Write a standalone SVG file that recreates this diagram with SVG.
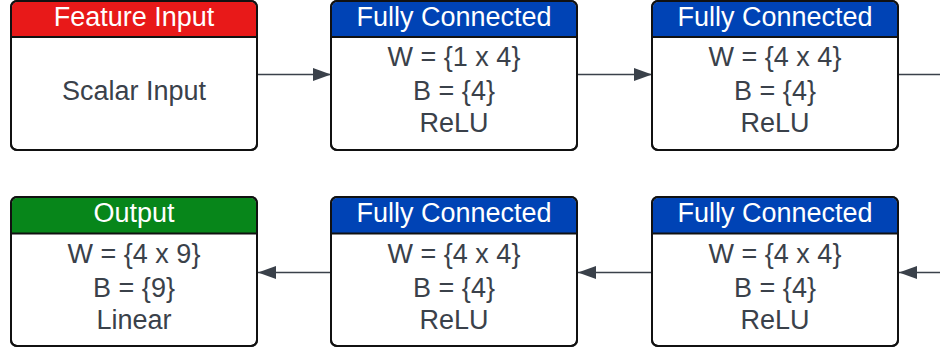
<svg xmlns="http://www.w3.org/2000/svg" width="940" height="349" viewBox="0 0 940 349">
<defs>
<style>
.box{fill:#ffffff;stroke:#111111;stroke-width:2}
.sep{stroke:#111111;stroke-width:2}
.ht{font-family:"Liberation Sans",Arial,sans-serif;font-size:27px;fill:#ffffff;text-anchor:middle}
.bt{font-family:"Liberation Sans",Arial,sans-serif;font-size:27px;fill:#3a414a;text-anchor:middle}
.con{stroke:#3a414a;stroke-width:1.6;fill:none}
</style>
<marker id="ah" viewBox="0 0 18 13" refX="18" refY="6.5" markerWidth="18" markerHeight="13" markerUnits="userSpaceOnUse" orient="auto">
<path d="M0,0 L18,6.5 L0,13 Z" fill="#3a414a"/>
</marker>
</defs>
<g id="connectors">
<line class="con" x1="258" y1="74.5" x2="331" y2="74.5" marker-end="url(#ah)"/>
<line class="con" x1="578" y1="74.5" x2="652" y2="74.5" marker-end="url(#ah)"/>
<line class="con" x1="899" y1="74.5" x2="940" y2="74.5"/>
<line class="con" x1="940" y1="272.5" x2="899" y2="272.5" marker-end="url(#ah)"/>
<line class="con" x1="652" y1="272.5" x2="578" y2="272.5" marker-end="url(#ah)"/>
<line class="con" x1="331" y1="272.5" x2="258" y2="272.5" marker-end="url(#ah)"/>
</g>
<g id="feature-input" transform="translate(11,1)">
<rect class="box" x="0" y="0" width="246" height="149" rx="6"/>
<path d="M1,36 V6 A5,5 0 0 1 6,1 H240 A5,5 0 0 1 245,6 V36 Z" fill="#e81919"/>
<line class="sep" x1="0" y1="36" x2="246" y2="36"/>
<rect x="0" y="0" width="246" height="149" rx="6" fill="none" stroke="#111" stroke-width="2"/>
<text class="ht" x="123" y="25">Feature Input</text>
<text class="bt" x="123" y="98.5">Scalar Input</text>
</g>
<g id="fc1" transform="translate(331,1)">
<rect class="box" x="0" y="0" width="246" height="149" rx="6"/>
<path d="M1,36 V6 A5,5 0 0 1 6,1 H240 A5,5 0 0 1 245,6 V36 Z" fill="#0043b5"/>
<line class="sep" x1="0" y1="36" x2="246" y2="36"/>
<rect x="0" y="0" width="246" height="149" rx="6" fill="none" stroke="#111" stroke-width="2"/>
<text class="ht" x="123" y="25">Fully Connected</text>
<text class="bt" x="123" y="65">W = {1 x 4}</text>
<text class="bt" x="123" y="98.5">B = {4}</text>
<text class="bt" x="123" y="131">ReLU</text>
</g>
<g id="fc2" transform="translate(652,1)">
<rect class="box" x="0" y="0" width="246" height="149" rx="6"/>
<path d="M1,36 V6 A5,5 0 0 1 6,1 H240 A5,5 0 0 1 245,6 V36 Z" fill="#0043b5"/>
<line class="sep" x1="0" y1="36" x2="246" y2="36"/>
<rect x="0" y="0" width="246" height="149" rx="6" fill="none" stroke="#111" stroke-width="2"/>
<text class="ht" x="123" y="25">Fully Connected</text>
<text class="bt" x="123" y="65">W = {4 x 4}</text>
<text class="bt" x="123" y="98.5">B = {4}</text>
<text class="bt" x="123" y="131">ReLU</text>
</g>
<g id="fc3" transform="translate(652,197)">
<rect class="box" x="0" y="0" width="246" height="149" rx="6"/>
<path d="M1,36 V6 A5,5 0 0 1 6,1 H240 A5,5 0 0 1 245,6 V36 Z" fill="#0043b5"/>
<line class="sep" x1="0" y1="36.5" x2="246" y2="36.5"/>
<rect x="0" y="0" width="246" height="149" rx="6" fill="none" stroke="#111" stroke-width="2"/>
<text class="ht" x="123" y="25">Fully Connected</text>
<text class="bt" x="123" y="66">W = {4 x 4}</text>
<text class="bt" x="123" y="99.5">B = {4}</text>
<text class="bt" x="123" y="132">ReLU</text>
</g>
<g id="fc4" transform="translate(331,197)">
<rect class="box" x="0" y="0" width="246" height="149" rx="6"/>
<path d="M1,36 V6 A5,5 0 0 1 6,1 H240 A5,5 0 0 1 245,6 V36 Z" fill="#0043b5"/>
<line class="sep" x1="0" y1="36.5" x2="246" y2="36.5"/>
<rect x="0" y="0" width="246" height="149" rx="6" fill="none" stroke="#111" stroke-width="2"/>
<text class="ht" x="123" y="25">Fully Connected</text>
<text class="bt" x="123" y="66">W = {4 x 4}</text>
<text class="bt" x="123" y="99.5">B = {4}</text>
<text class="bt" x="123" y="132">ReLU</text>
</g>
<g id="output" transform="translate(11,197)">
<rect class="box" x="0" y="0" width="246" height="149" rx="6"/>
<path d="M1,36 V6 A5,5 0 0 1 6,1 H240 A5,5 0 0 1 245,6 V36 Z" fill="#07861a"/>
<line class="sep" x1="0" y1="36.5" x2="246" y2="36.5"/>
<rect x="0" y="0" width="246" height="149" rx="6" fill="none" stroke="#111" stroke-width="2"/>
<text class="ht" x="123" y="25">Output</text>
<text class="bt" x="123" y="66">W = {4 x 9}</text>
<text class="bt" x="123" y="99.5">B = {9}</text>
<text class="bt" x="123" y="132">Linear</text>
</g>
</svg>
